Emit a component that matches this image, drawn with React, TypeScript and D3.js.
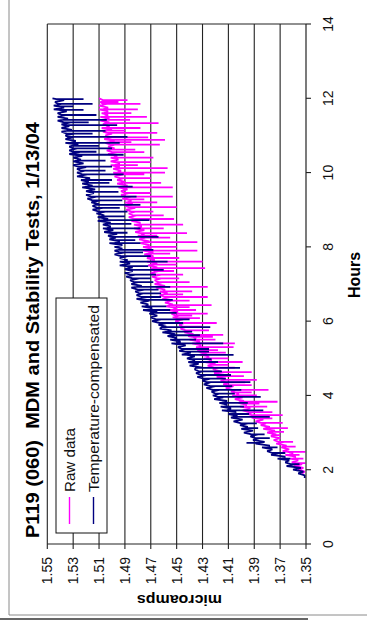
import React from "react";
import * as d3 from "d3";

// Axis ticks
const hourTicks = [0, 2, 4, 6, 8, 10, 12, 14];
const ampTicks = [1.35, 1.37, 1.39, 1.41, 1.43, 1.45, 1.47, 1.49, 1.51, 1.53, 1.55];
const ampTickLabels = ["1.35", "1.37", "1.39", "1.41", "1.43", "1.45", "1.47", "1.49", "1.51", "1.53", "1.55"];

const seriesNames = ["Raw data", "Temperature-compensated"];
const seriesColors = ["#FF00FF", "#000080"];

// Raw data: [hours, microamps]
const rawBand: [number, number][] = [
  [1.9, 1.353], [2.0, 1.356], [2.1, 1.359], [2.2, 1.361], [2.3, 1.362], [2.4, 1.366], [2.5, 1.368], [2.6, 1.369],
  [2.7, 1.373], [2.8, 1.375], [2.9, 1.377], [3.0, 1.38], [3.1, 1.383], [3.2, 1.385], [3.3, 1.389], [3.4, 1.392],
  [3.5, 1.395], [3.6, 1.399], [3.7, 1.401], [3.8, 1.402], [3.9, 1.405], [4.0, 1.407], [4.1, 1.408], [4.2, 1.412],
  [4.3, 1.414], [4.4, 1.416], [4.5, 1.419], [4.6, 1.421], [4.7, 1.422], [4.8, 1.426], [4.9, 1.428], [5.0, 1.429],
  [5.1, 1.432], [5.2, 1.434], [5.3, 1.435], [5.4, 1.438], [5.5, 1.44], [5.6, 1.441], [5.7, 1.444], [5.8, 1.447],
  [5.9, 1.448], [6.0, 1.451], [6.1, 1.453], [6.2, 1.454], [6.3, 1.456], [6.4, 1.458], [6.5, 1.459], [6.6, 1.461],
  [6.7, 1.463], [6.8, 1.463], [6.9, 1.466], [7.0, 1.467], [7.1, 1.467], [7.2, 1.469], [7.3, 1.47], [7.4, 1.47],
  [7.5, 1.472], [7.6, 1.473], [7.7, 1.473], [7.8, 1.475], [7.9, 1.476], [8.0, 1.476], [8.1, 1.478], [8.2, 1.479],
  [8.3, 1.48], [8.4, 1.482], [8.5, 1.483], [8.6, 1.483], [8.7, 1.485], [8.8, 1.487], [8.9, 1.487], [9.0, 1.489],
  [9.1, 1.49], [9.2, 1.49], [9.3, 1.492], [9.4, 1.493], [9.5, 1.493], [9.6, 1.495], [9.7, 1.496], [9.8, 1.496],
  [9.9, 1.498], [10.0, 1.499], [10.1, 1.499], [10.2, 1.501], [10.3, 1.501], [10.4, 1.501], [10.5, 1.503], [10.6, 1.504],
  [10.7, 1.503], [10.8, 1.505], [10.9, 1.506], [11.0, 1.505], [11.1, 1.507], [11.2, 1.508], [11.3, 1.507], [11.4, 1.509],
  [11.5, 1.509], [11.6, 1.508], [11.7, 1.51], [11.8, 1.51], [11.9, 1.509], [12.0, 1.51],
];
const rawBandMid: [number, number][] = [
  [1.95, 1.351], [2.05, 1.352], [2.15, 1.353], [2.25, 1.356], [2.35, 1.358], [2.45, 1.36], [2.55, 1.363], [2.65, 1.365],
  [2.75, 1.367], [2.85, 1.37], [2.95, 1.373], [3.05, 1.374], [3.15, 1.378], [3.25, 1.381], [3.35, 1.383], [3.45, 1.388],
  [3.55, 1.391], [3.65, 1.393], [3.75, 1.396], [3.85, 1.398], [3.95, 1.399], [4.05, 1.402], [4.15, 1.404], [4.25, 1.406],
  [4.35, 1.409], [4.45, 1.412], [4.55, 1.413], [4.65, 1.416], [4.75, 1.418], [4.85, 1.42], [4.95, 1.423], [5.05, 1.425],
  [5.15, 1.426], [5.25, 1.429], [5.35, 1.431], [5.45, 1.432], [5.55, 1.435], [5.65, 1.437], [5.75, 1.438], [5.85, 1.442],
  [5.95, 1.444], [6.05, 1.445], [6.15, 1.448], [6.25, 1.449], [6.35, 1.45], [6.45, 1.453], [6.55, 1.454], [6.65, 1.455],
  [6.75, 1.457], [6.85, 1.459], [6.95, 1.459], [7.05, 1.461], [7.15, 1.462], [7.25, 1.462], [7.35, 1.464], [7.45, 1.465],
  [7.55, 1.465], [7.65, 1.467], [7.75, 1.468], [7.85, 1.468], [7.95, 1.47], [8.05, 1.471], [8.15, 1.471], [8.25, 1.474],
  [8.35, 1.475], [8.45, 1.475], [8.55, 1.477], [8.65, 1.478], [8.75, 1.479], [8.85, 1.481], [8.95, 1.482], [9.05, 1.482],
  [9.15, 1.484], [9.25, 1.485], [9.35, 1.485], [9.45, 1.487], [9.55, 1.488], [9.65, 1.488], [9.75, 1.49], [9.85, 1.491],
  [9.95, 1.491], [10.05, 1.493], [10.15, 1.494], [10.25, 1.494], [10.35, 1.495], [10.45, 1.496], [10.55, 1.496], [10.65, 1.498],
  [10.75, 1.498], [10.85, 1.498], [10.95, 1.5], [11.05, 1.5], [11.15, 1.5], [11.25, 1.502], [11.35, 1.502], [11.45, 1.502],
  [11.55, 1.503], [11.65, 1.503], [11.75, 1.503], [11.85, 1.504], [11.95, 1.504],
];

// Temperature-compensated: [hours, microamps]
const compBand: [number, number][] = [
  [1.78, 1.351], [1.9, 1.356], [2.0, 1.36], [2.1, 1.365], [2.2, 1.366], [2.3, 1.372], [2.4, 1.377], [2.5, 1.38],
  [2.6, 1.384], [2.7, 1.389], [2.8, 1.391], [2.9, 1.393], [3.0, 1.398], [3.1, 1.4], [3.2, 1.401], [3.3, 1.406],
  [3.4, 1.408], [3.5, 1.41], [3.6, 1.415], [3.7, 1.416], [3.8, 1.417], [3.9, 1.421], [4.0, 1.422], [4.1, 1.423],
  [4.2, 1.427], [4.3, 1.429], [4.4, 1.43], [4.5, 1.434], [4.6, 1.435], [4.7, 1.436], [4.8, 1.44], [4.9, 1.441],
  [5.0, 1.442], [5.1, 1.446], [5.2, 1.448], [5.3, 1.449], [5.4, 1.454], [5.5, 1.455], [5.6, 1.457], [5.7, 1.461],
  [5.8, 1.463], [5.9, 1.464], [6.0, 1.469], [6.1, 1.47], [6.2, 1.471], [6.3, 1.476], [6.4, 1.477], [6.5, 1.478],
  [6.6, 1.481], [6.7, 1.481], [6.8, 1.482], [6.9, 1.485], [7.0, 1.485], [7.1, 1.486], [7.2, 1.489], [7.3, 1.49],
  [7.4, 1.49], [7.5, 1.494], [7.6, 1.494], [7.7, 1.494], [7.8, 1.498], [7.9, 1.498], [8.0, 1.498], [8.1, 1.502],
  [8.2, 1.502], [8.3, 1.503], [8.4, 1.506], [8.5, 1.507], [8.6, 1.507], [8.7, 1.511], [8.8, 1.511], [8.9, 1.512],
  [9.0, 1.515], [9.1, 1.515], [9.2, 1.516], [9.3, 1.519], [9.4, 1.52], [9.5, 1.52], [9.6, 1.523], [9.7, 1.523],
  [9.8, 1.524], [9.9, 1.527], [10.0, 1.527], [10.1, 1.527], [10.2, 1.53], [10.3, 1.53], [10.4, 1.53], [10.5, 1.533],
  [10.6, 1.533], [10.7, 1.533], [10.8, 1.536], [10.9, 1.536], [11.0, 1.536], [11.1, 1.539], [11.2, 1.539], [11.3, 1.539],
  [11.4, 1.542], [11.5, 1.542], [11.6, 1.542], [11.7, 1.545], [11.8, 1.545], [11.9, 1.544], [12.0, 1.546],
];
const compBandMid: [number, number][] = [
  [1.85, 1.351], [1.95, 1.352], [2.05, 1.354], [2.15, 1.358], [2.25, 1.363], [2.35, 1.366], [2.45, 1.371], [2.55, 1.376],
  [2.65, 1.378], [2.75, 1.382], [2.85, 1.386], [2.95, 1.387], [3.05, 1.391], [3.15, 1.395], [3.25, 1.395], [3.35, 1.399],
  [3.45, 1.403], [3.55, 1.404], [3.65, 1.408], [3.75, 1.411], [3.85, 1.411], [3.95, 1.414], [4.05, 1.417], [4.15, 1.417],
  [4.25, 1.42], [4.35, 1.424], [4.45, 1.424], [4.55, 1.427], [4.65, 1.43], [4.75, 1.43], [4.85, 1.433], [4.95, 1.436],
  [5.05, 1.436], [5.15, 1.439], [5.25, 1.443], [5.35, 1.443], [5.45, 1.447], [5.55, 1.45], [5.65, 1.451], [5.75, 1.454],
  [5.85, 1.458], [5.95, 1.458], [6.05, 1.462], [6.15, 1.465], [6.25, 1.465], [6.35, 1.469], [6.45, 1.472], [6.55, 1.471],
  [6.65, 1.473], [6.75, 1.476], [6.85, 1.475], [6.95, 1.477], [7.05, 1.48], [7.15, 1.479], [7.25, 1.482], [7.35, 1.484],
  [7.45, 1.484], [7.55, 1.486], [7.65, 1.488], [7.75, 1.488], [7.85, 1.49], [7.95, 1.492], [8.05, 1.492], [8.15, 1.494],
  [8.25, 1.497], [8.35, 1.496], [8.45, 1.499], [8.55, 1.501], [8.65, 1.501], [8.75, 1.503], [8.85, 1.506], [8.95, 1.505],
  [9.05, 1.507], [9.15, 1.51], [9.25, 1.509], [9.35, 1.512], [9.45, 1.514], [9.55, 1.513], [9.65, 1.515], [9.75, 1.518],
  [9.85, 1.517], [9.95, 1.519], [10.05, 1.521], [10.15, 1.52], [10.25, 1.522], [10.35, 1.524], [10.45, 1.523], [10.55, 1.525],
  [10.65, 1.527], [10.75, 1.526], [10.85, 1.528], [10.95, 1.53], [11.05, 1.529], [11.15, 1.531], [11.25, 1.533], [11.35, 1.532],
  [11.45, 1.534], [11.55, 1.536], [11.65, 1.535], [11.75, 1.537], [11.85, 1.539], [11.95, 1.537],
];

// Momentary excursions: [hours, level before/after, peak]
const rawSpikes: [number, number, number][] = [
  [11.95, 1.507, 1.488], [11.9, 1.507, 1.495], [11.85, 1.507, 1.478], [11.7, 1.507, 1.48], [11.6, 1.506, 1.485],
  [11.5, 1.506, 1.473], [11.42, 1.506, 1.486], [11.33, 1.505, 1.464], [11.2, 1.505, 1.478], [11.13, 1.504, 1.49],
  [11.07, 1.504, 1.465], [10.95, 1.503, 1.472], [10.88, 1.502, 1.459], [10.82, 1.502, 1.485], [10.75, 1.501, 1.463],
  [10.62, 1.501, 1.482], [10.55, 1.5, 1.475], [10.4, 1.499, 1.468], [10.28, 1.498, 1.47], [10.2, 1.498, 1.48],
  [10.12, 1.497, 1.457], [10.0, 1.496, 1.459], [9.95, 1.495, 1.475], [9.85, 1.494, 1.47], [9.72, 1.493, 1.462],
  [9.6, 1.492, 1.453], [9.45, 1.49, 1.47], [9.35, 1.489, 1.453], [9.28, 1.489, 1.475], [9.2, 1.488, 1.465],
  [9.07, 1.487, 1.45], [8.95, 1.485, 1.468], [8.85, 1.484, 1.46], [8.75, 1.482, 1.452], [8.6, 1.481, 1.445],
  [8.5, 1.48, 1.46], [8.37, 1.478, 1.442], [8.3, 1.478, 1.465], [8.25, 1.476, 1.455], [8.13, 1.475, 1.434],
  [8.0, 1.474, 1.45], [7.9, 1.473, 1.434], [7.82, 1.472, 1.455], [7.7, 1.471, 1.448], [7.6, 1.47, 1.43],
  [7.52, 1.469, 1.45], [7.43, 1.468, 1.428], [7.35, 1.467, 1.452], [7.25, 1.466, 1.445], [7.15, 1.465, 1.448],
  [7.05, 1.464, 1.44], [6.92, 1.463, 1.426], [6.8, 1.461, 1.438], [6.72, 1.46, 1.445], [6.65, 1.459, 1.426],
  [6.55, 1.457, 1.44], [6.43, 1.455, 1.423], [6.38, 1.454, 1.44], [6.3, 1.453, 1.435], [6.2, 1.452, 1.426],
  [6.15, 1.451, 1.438], [6.08, 1.45, 1.432], [5.95, 1.447, 1.419], [5.85, 1.445, 1.43], [5.75, 1.443, 1.425],
  [5.63, 1.44, 1.414], [5.58, 1.438, 1.422], [5.5, 1.437, 1.42], [5.4, 1.435, 1.405], [5.3, 1.433, 1.406],
  [5.22, 1.431, 1.418], [5.15, 1.43, 1.412], [5.0, 1.427, 1.41], [4.9, 1.425, 1.399], [4.82, 1.424, 1.41],
  [4.75, 1.421, 1.405], [4.63, 1.419, 1.392], [4.52, 1.417, 1.398], [4.42, 1.414, 1.388], [4.35, 1.412, 1.397],
  [4.28, 1.411, 1.392], [4.15, 1.407, 1.379], [4.08, 1.405, 1.392], [4.0, 1.404, 1.388], [3.83, 1.401, 1.372],
  [3.78, 1.4, 1.386], [3.7, 1.398, 1.38], [3.55, 1.394, 1.376], [3.47, 1.392, 1.368], [3.38, 1.388, 1.376],
  [3.26, 1.385, 1.368], [3.12, 1.381, 1.364], [3.02, 1.378, 1.367], [2.93, 1.376, 1.37], [2.75, 1.371, 1.36],
  [2.62, 1.368, 1.358], [2.48, 1.364, 1.3505], [2.4, 1.363, 1.355], [2.3, 1.36, 1.352], [2.18, 1.358, 1.3505],
];

const compSpikes: [number, number, number][] = [
  [11.98, 1.543, 1.522], [11.85, 1.542, 1.515], [11.78, 1.542, 1.53], [11.69, 1.541, 1.522], [11.55, 1.539, 1.512],
  [11.42, 1.538, 1.504], [11.35, 1.537, 1.518], [11.28, 1.537, 1.496], [11.12, 1.535, 1.505], [11.05, 1.535, 1.515],
  [10.96, 1.534, 1.488], [10.8, 1.532, 1.494], [10.72, 1.531, 1.51], [10.65, 1.53, 1.5], [10.56, 1.53, 1.512],
  [10.48, 1.529, 1.491], [10.32, 1.527, 1.505], [10.16, 1.526, 1.5], [10.05, 1.524, 1.505], [9.95, 1.523, 1.491],
  [9.8, 1.522, 1.5], [9.72, 1.52, 1.502], [9.62, 1.519, 1.484], [9.48, 1.518, 1.495], [9.35, 1.516, 1.481],
  [9.25, 1.515, 1.492], [9.13, 1.513, 1.478], [9.05, 1.511, 1.494], [8.95, 1.51, 1.488], [8.82, 1.508, 1.49],
  [8.72, 1.507, 1.471], [8.62, 1.505, 1.485], [8.5, 1.504, 1.478], [8.38, 1.502, 1.488], [8.27, 1.501, 1.464],
  [8.18, 1.499, 1.482], [8.1, 1.498, 1.478], [7.92, 1.495, 1.468], [7.85, 1.494, 1.476], [7.75, 1.493, 1.47],
  [7.6, 1.491, 1.457], [7.48, 1.489, 1.472], [7.38, 1.488, 1.46], [7.25, 1.486, 1.466], [7.15, 1.484, 1.47],
  [7.05, 1.483, 1.468], [6.92, 1.481, 1.455], [6.85, 1.48, 1.464], [6.75, 1.479, 1.462], [6.65, 1.477, 1.462],
  [6.57, 1.477, 1.453], [6.4, 1.474, 1.458], [6.3, 1.472, 1.455], [6.22, 1.47, 1.45], [6.05, 1.466, 1.44],
  [5.95, 1.463, 1.445], [5.84, 1.461, 1.424], [5.72, 1.457, 1.438], [5.62, 1.455, 1.432], [5.5, 1.452, 1.435],
  [5.4, 1.45, 1.414], [5.25, 1.446, 1.425], [5.18, 1.444, 1.425], [5.09, 1.442, 1.406], [4.98, 1.44, 1.423],
  [4.9, 1.438, 1.418], [4.74, 1.435, 1.401], [4.65, 1.433, 1.415], [4.55, 1.431, 1.408], [4.45, 1.429, 1.412],
  [4.36, 1.427, 1.393], [4.25, 1.424, 1.407], [4.15, 1.422, 1.4], [4.05, 1.42, 1.405], [3.96, 1.418, 1.385],
  [3.8, 1.415, 1.395], [3.7, 1.413, 1.398], [3.6, 1.411, 1.383], [3.5, 1.408, 1.394], [3.42, 1.406, 1.378],
  [3.25, 1.4, 1.388], [3.12, 1.397, 1.387], [2.95, 1.392, 1.382], [2.85, 1.389, 1.378], [2.72, 1.386, 1.396],
  [2.6, 1.381, 1.372], [2.45, 1.376, 1.366], [2.3, 1.369, 1.362], [2.15, 1.362, 1.355],
];

const titleText = "P119 (060)  MDM and Stability Tests, 1/13/04";
const xTitle = "Hours";
const yTitle = "microamps";

const FONT = "'Liberation Sans', Arial, Helvetica, sans-serif";

// The chart is laid out landscape (620 wide, 367 tall) and then turned a quarter
// turn counter-clockwise to fit the portrait page.
const LW = 620;

type Pt = { h: number; v: number; k: number };

export default function App() {
  const x = d3.scaleLinear().domain([0, 14]).range([76, 596]);
  const y = d3.scaleLinear().domain([1.35, 1.55]).range([306, 47.3]);

  const buildPath = (
    band: [number, number][],
    mid: [number, number][],
    spikes: [number, number, number][]
  ) => {
    const pts: Pt[] = [...band, ...mid].map(([h, v]) => ({ h, v, k: 0 }));
    spikes.forEach(([h, base, peak]) => {
      pts.push({ h, v: base, k: 1 }, { h, v: peak, k: 2 }, { h, v: base, k: 3 });
    });
    pts.sort((a, b) => a.h - b.h || a.k - b.k);
    return d3
      .line<Pt>()
      .x((d) => x(d.h))
      .y((d) => y(d.v))(pts) as string;
  };

  const rawPath = buildPath(rawBand, rawBandMid, rawSpikes);
  const compPath = buildPath(compBand, compBandMid, compSpikes);

  const [x0, x1] = x.range();
  const yTop = y(1.55);
  const yBot = y(1.35);

  return (
    <svg
      width={367}
      height={620}
      style={{ position: "absolute", left: 0, top: 0, background: "#fff" }}
      fontFamily={FONT}
    >
      <rect x={0} y={0} width={367} height={620} fill="#fff" />
      <g transform={`translate(0,${LW}) rotate(-90)`}>
        {/* chart frame */}
        <line x1={5} y1={9} x2={LW} y2={9} stroke="#8a8a8a" strokeWidth={1} />
        <line x1={5} y1={9} x2={5} y2={367} stroke="#8a8a8a" strokeWidth={1} />
        <line x1={1} y1={0} x2={1} y2={308} stroke="#333" strokeWidth={1.3} />

        {/* horizontal gridlines */}
        {ampTicks.slice(1).map((t) => (
          <line key={"g" + t} x1={x0} x2={x1} y1={y(t)} y2={y(t)} stroke="#222" strokeWidth={1.1} />
        ))}
        {/* right edge of plot area */}
        <line x1={x1} x2={x1} y1={yTop} y2={yBot} stroke="#222" strokeWidth={1.1} />

        {/* series */}
        <path d={rawPath} fill="none" stroke={seriesColors[0]} strokeWidth={1.8} strokeLinejoin="bevel" />
        <path d={compPath} fill="none" stroke={seriesColors[1]} strokeWidth={1.8} strokeLinejoin="bevel" />

        {/* value axis */}
        <line x1={x0} x2={x0} y1={yTop} y2={yBot} stroke="#222" strokeWidth={1.2} />
        {ampTicks.map((t, i) => (
          <g key={"a" + t}>
            <line x1={x0 - 5} x2={x0} y1={y(t)} y2={y(t)} stroke="#222" strokeWidth={1.1} />
            <text x={63} y={y(t)} dy="0.36em" textAnchor="end" fontSize={14} fill="#111">
              {ampTickLabels[i]}
            </text>
          </g>
        ))}

        {/* hours axis */}
        <line x1={x0} x2={x1} y1={yBot} y2={yBot} stroke="#222" strokeWidth={1.2} />
        {hourTicks.map((t) => (
          <g key={"h" + t}>
            <line x1={x(t)} x2={x(t)} y1={yBot} y2={yBot + 5} stroke="#222" strokeWidth={1.1} />
            <text x={x(t)} y={333} textAnchor="middle" fontSize={14} fill="#111">
              {t}
            </text>
          </g>
        ))}

        {/* legend */}
        <rect x={87} y={56} width={235} height={51} fill="#fff" stroke="#111" strokeWidth={1} />
        <line x1={96} x2={123} y1={69.5} y2={69.5} stroke={seriesColors[0]} strokeWidth={1.4} />
        <text x={128} y={74.5} fontSize={15} fill="#111" textLength={64} lengthAdjust="spacingAndGlyphs">
          {seriesNames[0]}
        </text>
        <line x1={96} x2={123} y1={93.5} y2={93.5} stroke={seriesColors[1]} strokeWidth={1.4} />
        <text x={128} y={98.5} fontSize={15} fill="#111" textLength={187} lengthAdjust="spacingAndGlyphs">
          {seriesNames[1]}
        </text>

        {/* titles */}
        <text
          x={290}
          y={38.5}
          textAnchor="middle"
          fontSize={18}
          fontWeight="bold"
          fill="#000"
          textLength={416}
          lengthAdjust="spacingAndGlyphs"
          style={{ whiteSpace: "pre" }}
        >
          {titleText}
        </text>
        <text
          x={345}
          y={360}
          textAnchor="middle"
          fontSize={16}
          fontWeight="bold"
          fill="#000"
          textLength={46}
          lengthAdjust="spacingAndGlyphs"
        >
          {xTitle}
        </text>
        <text
          transform={`translate(25,179.5) rotate(-90)`}
          textAnchor="middle"
          fontSize={15}
          fontWeight="bold"
          fill="#000"
          textLength={85}
          lengthAdjust="spacingAndGlyphs"
        >
          {yTitle}
        </text>
      </g>
    </svg>
  );
}
